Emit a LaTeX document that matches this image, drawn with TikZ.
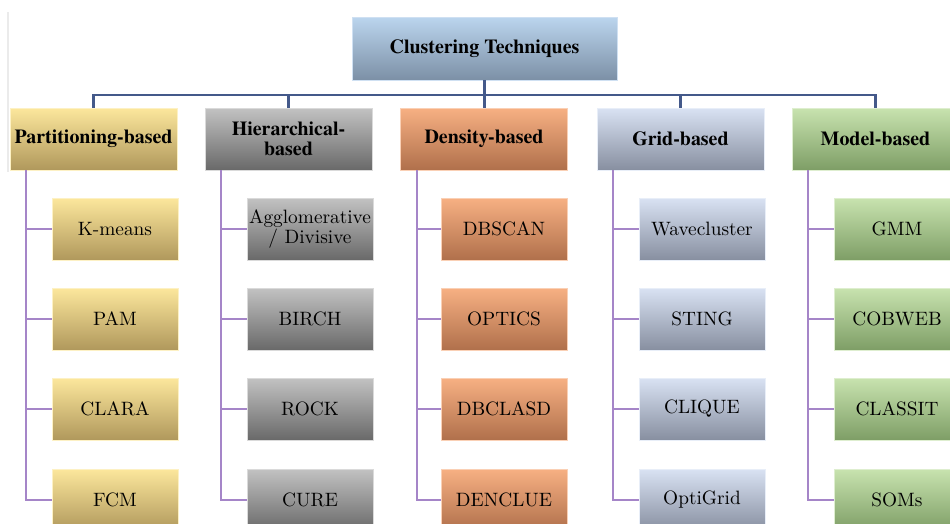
\documentclass[tikz,border=0pt]{standalone}
\usepackage{fontspec}
\setmainfont{TeX Gyre Termes}
\newfontfamily\lmr{Latin Modern Roman}
\begin{document}
\begin{tikzpicture}[x=0.02cm,y=-0.02cm,
  base/.style={rectangle, inner sep=0pt, align=center, text=black,
    font=\lmr\fontsize{11}{11.8}\selectfont, line width=0.5pt},
  topbox/.style={base, minimum width=265*0.02cm, minimum height=63*0.02cm,
    top color=topT, bottom color=topB, draw=topE, font=\rmfamily\fontsize{11.34}{12}\selectfont\bfseries},
  catbox/.style={base, minimum width=167*0.02cm, minimum height=62*0.02cm,
    font=\rmfamily\fontsize{11.34}{11.6}\selectfont\bfseries},
  childbox/.style={base, minimum width=126*0.02cm, minimum height=62*0.02cm},
  part/.style={top color=paT, bottom color=paB, draw=paT!60!white},
  hier/.style={top color=hiT, bottom color=hiB, draw=hiT!60!white},
  dens/.style={top color=deT, bottom color=deB, draw=deT!60!white},
  grid/.style={top color=grT, bottom color=grB, draw=grT!60!white},
  mode/.style={top color=moT, bottom color=moB, draw=moT!60!white},
  barline/.style={draw=barC, line width=1.3pt},
  subline/.style={draw=subC, line width=1.1pt}
]
\definecolor{topT}{HTML}{BBD5EE}
\definecolor{topB}{HTML}{7C90A6}
\definecolor{topE}{HTML}{CFE0F2}
\definecolor{paT}{HTML}{FCE79C}
\definecolor{paB}{HTML}{B0985C}
\definecolor{hiT}{HTML}{C2C2C2}
\definecolor{hiB}{HTML}{696969}
\definecolor{deT}{HTML}{F7B083}
\definecolor{deB}{HTML}{B0704B}
\definecolor{grT}{HTML}{D9E2F3}
\definecolor{grB}{HTML}{878FA0}
\definecolor{moT}{HTML}{C8E3AF}
\definecolor{moB}{HTML}{7E9E66}
\definecolor{barC}{HTML}{44598A}
\definecolor{subC}{HTML}{A585C8}

\useasboundingbox[fill=white] (0,0) rectangle (950,524);
\draw[black!8, line width=0.6pt] (8,12) -- (8,172);

\node[topbox] (top) at (484.5,48.5) {Clustering Techniques};

% categories
\node[catbox,part] (c1) at (93.5,139) {Partitioning-based};
\node[catbox,hier] (c2) at (288.5,139) {Hierarchical-\\based};
\node[catbox,dens] (c3) at (484,139) {Density-based};
\node[catbox,grid] (c4) at (680.5,139) {Grid-based};
\node[catbox,mode] (c5) at (875.5,139) {Model-based};

% children
\foreach \c/\st/\xl/\a/\b/\cc/\d in {
  1/part/52/K-means/PAM/CLARA/FCM,
  2/hier/247/{Agglomerative\\ / Divisive}/BIRCH/ROCK/CURE,
  3/dens/441/DBSCAN/OPTICS/DBCLASD/DENCLUE,
  4/grid/639/Wavecluster/STING/CLIQUE/OptiGrid,
  5/mode/834/GMM/COBWEB/CLASSIT/SOMs}{
  \node[childbox,\st] (k\c a) at (\xl+63,229) {\a};
  \node[childbox,\st] (k\c b) at (\xl+63,319) {\b};
  \node[childbox,\st] (k\c c) at (\xl+63,409) {\cc};
  \node[childbox,\st] (k\c d) at (\xl+63,500) {\d};
  \path (c\c.south west) ++(16.5,0) coordinate (v\c);
  \draw[subline] (v\c) |- (k\c d.west);
  \draw[subline] (v\c |- k\c a.west) -- (k\c a.west);
  \draw[subline] (v\c |- k\c b.west) -- (k\c b.west);
  \draw[subline] (v\c |- k\c c.west) -- (k\c c.west);
}

% top connectors
\coordinate (bar) at (0,95);
\draw[barline] (top.south) -- (top.south |- c3.north);
\draw[barline] (c1.north) -- (c1.north |- bar) -- (c5.north |- bar) -- (c5.north);
\draw[barline] (c2.north) -- (c2.north |- bar);
\draw[barline] (c4.north) -- (c4.north |- bar);
\end{tikzpicture}
\end{document}
